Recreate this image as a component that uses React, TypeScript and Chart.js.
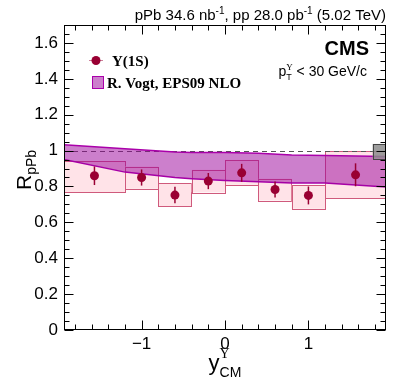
import React, { useEffect, useRef } from "react";
import { Chart, registerables } from "chart.js";

Chart.register(...registerables);

// ---- data ----
const binEdges = [-1.93, -1.2, -0.8, -0.4, 0, 0.4, 0.8, 1.2, 1.93];
const binCenters = [-1.565, -1.0, -0.6, -0.2, 0.2, 0.6, 1.0, 1.565];
const rpPb = [0.86, 0.85, 0.752, 0.83, 0.876, 0.783, 0.75, 0.865];
const statErr = [0.052, 0.045, 0.046, 0.045, 0.05, 0.045, 0.05, 0.064];
const sysLow = [0.768, 0.787, 0.689, 0.767, 0.809, 0.722, 0.676, 0.732];
const sysHigh = [0.94, 0.911, 0.818, 0.893, 0.948, 0.843, 0.809, 0.996];

const theoryX = [-1.93, -1.2, -0.6, -0.4, 0, 0.4, 0.8, 1.2, 1.93];
const theoryHigh = [1.033, 1.01, 0.992, 0.99, 0.99, 0.985, 0.976, 0.972, 0.967];
const theoryLow = [0.95, 0.88, 0.85, 0.843, 0.833, 0.826, 0.82, 0.82, 0.797];

const globalUncX = [1.77, 1.93];
const globalUncY = [0.955, 1.037];

const xTickValues = [-1, 0, 1];
const yTickValues = [0, 0.2, 0.4, 0.6, 0.8, 1, 1.2, 1.4, 1.6];
const xRange = [-1.93, 1.93];
const yRange = [0, 1.7];

const SANS = "'Liberation Sans', Arial, sans-serif";
const SERIF = "'Liberation Serif', 'Times New Roman', serif";

type Seg = { t: string; size: number; dy?: number; weight?: string; family?: string; stack?: boolean };

function drawRich(ctx: CanvasRenderingContext2D, segs: Seg[], x: number, y: number, align: "left" | "right" | "center") {
  const starts: number[] = [];
  let cursor = 0;
  let prevStart = 0;
  for (const s of segs) {
    ctx.font = `${s.weight || "normal"} ${s.size}px ${s.family || SANS}`;
    const w = ctx.measureText(s.t).width;
    let start: number;
    if (s.stack) {
      start = prevStart;
      cursor = Math.max(cursor, start + w);
    } else {
      start = cursor;
      cursor += w;
    }
    starts.push(start);
    prevStart = start;
  }
  const total = cursor;
  const x0 = align === "left" ? x : align === "right" ? x - total : x - total / 2;
  ctx.textAlign = "left";
  ctx.textBaseline = "alphabetic";
  segs.forEach((s, i) => {
    ctx.font = `${s.weight || "normal"} ${s.size}px ${s.family || SANS}`;
    ctx.fillText(s.t, x0 + starts[i], y + (s.dy || 0));
  });
}

const rootPlugin = {
  id: "rootStyle",
  beforeDatasetsDraw(chart: any) {
    const { ctx, chartArea, scales } = chart;
    const xs = scales.x;
    const ys = scales.y;
    ctx.save();
    ctx.beginPath();
    ctx.rect(chartArea.left, chartArea.top, chartArea.right - chartArea.left, chartArea.bottom - chartArea.top);
    ctx.clip();
    // systematic boxes
    for (let i = 0; i < rpPb.length; i++) {
      const x1 = xs.getPixelForValue(binEdges[i]);
      const x2 = xs.getPixelForValue(binEdges[i + 1]);
      const y1 = ys.getPixelForValue(sysHigh[i]);
      const y2 = ys.getPixelForValue(sysLow[i]);
      ctx.fillStyle = "#ffe3e8";
      ctx.fillRect(x1, y1, x2 - x1, y2 - y1);
      ctx.strokeStyle = "#cf5a7c";
      ctx.lineWidth = 1;
      ctx.strokeRect(Math.round(x1) + 0.5, Math.round(y1) + 0.5, Math.round(x2 - x1), Math.round(y2 - y1));
    }
    // dashed line at 1
    const y1p = Math.round(ys.getPixelForValue(1)) + 0.5;
    ctx.strokeStyle = "#555";
    ctx.setLineDash([5, 4]);
    ctx.beginPath();
    ctx.moveTo(chartArea.left, y1p);
    ctx.lineTo(chartArea.right, y1p);
    ctx.stroke();
    ctx.setLineDash([]);
    ctx.restore();
  },
  afterDatasetsDraw(chart: any) {
    const { ctx, chartArea, scales } = chart;
    const xs = scales.x;
    const ys = scales.y;
    ctx.save();
    // stat error bars
    ctx.strokeStyle = "#990033";
    ctx.lineWidth = 1.5;
    for (let i = 0; i < rpPb.length; i++) {
      const px = xs.getPixelForValue(binCenters[i]);
      ctx.beginPath();
      ctx.moveTo(px, ys.getPixelForValue(rpPb[i] - statErr[i]));
      ctx.lineTo(px, ys.getPixelForValue(rpPb[i] + statErr[i]));
      ctx.stroke();
    }
    // global uncertainty box
    const gx1 = xs.getPixelForValue(globalUncX[0]);
    const gx2 = xs.getPixelForValue(globalUncX[1]);
    const gy1 = ys.getPixelForValue(globalUncY[1]);
    const gy2 = ys.getPixelForValue(globalUncY[0]);
    ctx.fillStyle = "rgba(140,140,140,0.85)";
    ctx.fillRect(gx1, gy1, gx2 - gx1, gy2 - gy1);
    ctx.strokeStyle = "#444";
    ctx.lineWidth = 1;
    ctx.strokeRect(Math.round(gx1) + 0.5, Math.round(gy1) + 0.5, Math.round(gx2 - gx1) - 1, Math.round(gy2 - gy1));

    // frame
    const L = Math.round(chartArea.left) + 0.5;
    const R = Math.round(chartArea.right) - 0.5;
    const T = Math.round(chartArea.top) + 0.5;
    const B = Math.round(chartArea.bottom) - 0.5;
    ctx.strokeStyle = "#000";
    ctx.lineWidth = 1;
    ctx.strokeRect(L, T, R - L, B - T);
    // ticks
    const majLen = 9;
    const minLen = 5;
    ctx.beginPath();
    for (let k = -19; k <= 19; k++) {
      const v = k * 0.1;
      if (Math.abs(k) % 2 !== 0) continue;
      if (v < xRange[0] || v > xRange[1]) continue;
      const isMaj = k % 10 === 0;
      const len = isMaj ? majLen : minLen;
      const px = Math.round(xs.getPixelForValue(v)) + 0.5;
      ctx.moveTo(px, B);
      ctx.lineTo(px, B - len);
      ctx.moveTo(px, T);
      ctx.lineTo(px, T + len);
    }
    for (let k = 0; k <= 34; k++) {
      const v = k * 0.05;
      if (v > yRange[1] + 1e-9) continue;
      const isMaj = k % 4 === 0;
      const len = isMaj ? majLen : minLen;
      const py = Math.round(ys.getPixelForValue(v)) + 0.5;
      ctx.moveTo(L, py);
      ctx.lineTo(L + len, py);
      ctx.moveTo(R, py);
      ctx.lineTo(R - len, py);
    }
    ctx.stroke();
    ctx.restore();
  },
  afterDraw(chart: any) {
    const { ctx } = chart;
    ctx.save();
    ctx.fillStyle = "#000";
    // top title
    drawRich(
      ctx,
      [
        { t: "pPb 34.6 nb", size: 15 },
        { t: "-1", size: 10, dy: -6 },
        { t: ", pp 28.0 pb", size: 15 },
        { t: "-1", size: 10, dy: -6 },
        { t: " (5.02 TeV)", size: 15 },
      ],
      386,
      20,
      "right"
    );
    // CMS
    drawRich(ctx, [{ t: "CMS", size: 20, weight: "bold" }], 369, 55, "right");
    // pT cut
    drawRich(
      ctx,
      [
        { t: "p", size: 14 },
        { t: "T", size: 9, dy: 4 },
        { t: "\u03A5", size: 9, dy: -6, family: SERIF, stack: true },
        { t: " < 30 GeV/c", size: 14 },
      ],
      367,
      76,
      "right"
    );
    // legend
    ctx.strokeStyle = "rgba(153,0,51,0.5)";
    ctx.lineWidth = 1;
    ctx.beginPath();
    ctx.moveTo(89, 60.5);
    ctx.lineTo(103, 60.5);
    ctx.stroke();
    ctx.fillStyle = "#990033";
    ctx.beginPath();
    ctx.arc(96, 60.5, 4.5, 0, Math.PI * 2);
    ctx.fill();
    ctx.fillStyle = "#000";
    drawRich(ctx, [{ t: "\u03A5(1S)", size: 15, weight: "bold", family: SERIF }], 112, 66, "left");
    ctx.fillStyle = "rgba(153,0,153,0.5)";
    ctx.fillRect(92, 76, 12, 13);
    ctx.strokeStyle = "#aa00aa";
    ctx.lineWidth = 1;
    ctx.strokeRect(92.5, 76.5, 11, 12);
    ctx.fillStyle = "#000";
    drawRich(ctx, [{ t: "R. Vogt, EPS09 NLO", size: 15, weight: "bold", family: SERIF }], 107, 88, "left");
    // y title
    ctx.save();
    ctx.translate(31, 170);
    ctx.rotate(-Math.PI / 2);
    drawRich(
      ctx,
      [
        { t: "R", size: 21 },
        { t: "pPb", size: 14, dy: 5 },
      ],
      0,
      0,
      "center"
    );
    ctx.restore();
    // x title
    drawRich(
      ctx,
      [
        { t: "y", size: 22 },
        { t: "CM", size: 14, dy: 7 },
        { t: "\u03A5", size: 14, dy: -12, family: SERIF, stack: true },
      ],
      225,
      370,
      "center"
    );
    ctx.restore();
  },
};

export default function App() {
  const ref = useRef<HTMLCanvasElement>(null);
  useEffect(() => {
    const canvas = ref.current;
    if (!canvas) return;
    const chart = new Chart(canvas, {
      type: "scatter",
      data: {
        datasets: [
          {
            type: "scatter",
            label: "Upsilon(1S)",
            data: binCenters.map((x, i) => ({ x, y: rpPb[i] })),
            pointRadius: 4.5,
            pointHoverRadius: 4.5,
            backgroundColor: "#990033",
            borderColor: "#990033",
            borderWidth: 0,
            order: 0,
          } as any,
          {
            type: "line",
            label: "EPS09 low",
            data: theoryX.map((x, i) => ({ x, y: theoryLow[i] })),
            borderColor: "#aa00aa",
            borderWidth: 1.5,
            pointRadius: 0,
            fill: false,
            tension: 0,
            order: 2,
          } as any,
          {
            type: "line",
            label: "R. Vogt, EPS09 NLO",
            data: theoryX.map((x, i) => ({ x, y: theoryHigh[i] })),
            borderColor: "#aa00aa",
            borderWidth: 1.5,
            pointRadius: 0,
            fill: "-1",
            backgroundColor: "rgba(153,0,153,0.5)",
            tension: 0,
            order: 1,
          } as any,
        ],
      },
      options: {
        responsive: false,
        animation: false,
        devicePixelRatio: 1,
        layout: { padding: { top: 25, right: 13, left: 0, bottom: 0 } },
        plugins: { legend: { display: false }, tooltip: { enabled: false } },
        scales: {
          x: {
            type: "linear",
            min: xRange[0],
            max: xRange[1],
            grid: { display: false, drawTicks: false },
            border: { display: false },
            afterBuildTicks: (s: any) => {
              s.ticks = xTickValues.map((v) => ({ value: v }));
            },
            afterFit: (s: any) => {
              s.height = 53;
            },
            ticks: {
              autoSkip: false,
              maxRotation: 0,
              padding: 4,
              color: "#000",
              font: { family: SANS, size: 17 },
              callback: (v: any) => (Number(v) < 0 ? "\u2212" + Math.abs(Number(v)) : String(v)),
            },
          },
          y: {
            type: "linear",
            min: yRange[0],
            max: yRange[1],
            grid: { display: false, drawTicks: false },
            border: { display: false },
            afterBuildTicks: (s: any) => {
              s.ticks = yTickValues.map((v) => ({ value: v }));
            },
            afterFit: (s: any) => {
              s.width = 64;
            },
            ticks: {
              autoSkip: false,
              padding: 6,
              color: "#000",
              font: { family: SANS, size: 17 },
              callback: (v: any) => String(Number(Number(v).toFixed(1))),
            },
          },
        },
      },
      plugins: [rootPlugin],
    });
    return () => chart.destroy();
  }, []);
  return (
    <div style={{ position: "fixed", left: 0, top: 0, width: 399, height: 383, background: "#fff" }}>
      <canvas ref={ref} width={399} height={383} style={{ width: 399, height: 383, display: "block" }} />
    </div>
  );
}
